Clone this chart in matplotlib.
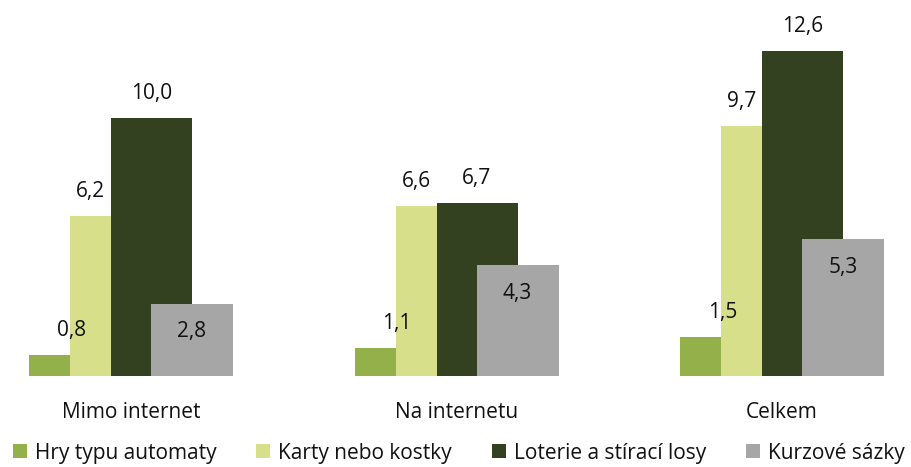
import matplotlib
matplotlib.use("Agg")
import matplotlib.pyplot as plt
import numpy as np

# categories and series values
categories = ["Mimo internet", "Na internetu", "Celkem"]
series = ["Hry typu automaty", "Karty nebo kostky", "Loterie a stírací losy", "Kurzové sázky"]
automaty = [0.8, 1.1, 1.5]
karty = [6.2, 6.6, 9.7]
loterie = [10.0, 6.7, 12.6]
kurzove = [2.8, 4.3, 5.3]

colors = ["#93b04a", "#d7df8b", "#334120", "#a6a6a6"]

plt.rcParams['font.family'] = ['Open Sans', 'DejaVu Sans']
fs = 15

fig = plt.figure(figsize=(9.12, 4.67), dpi=100)
# axes spans full width; baseline at 91 px from bottom
ax = fig.add_axes([0, 91 / 467, 1, 376 / 467])

px = 325.5  # pixels per category unit
x = np.arange(len(categories))
ax.set_xlim(-131 / px, (912 - 131) / px)
ax.set_ylim(0, 376 / 25.8)

# bar layout in pixels relative to group centre: (left, right)
spans = [(-102, -61), (-61, -20), (-20, 61), (20, 102)]
values = [automaty, karty, loterie, kurzove]

handles = []
for i, (vals, col, (l, r)) in enumerate(zip(values, colors, spans)):
    w = (r - l) / px
    b = ax.bar(x + l / px, vals, width=w, align='edge', color=col,
               label=series[i], zorder=2 + i)
    handles.append(b)
    for xi, v in zip(x, vals):
        lab = f"{v:.1f}".replace(".", ",")
        if i == 3:
            ax.annotate(lab, (xi + (l + r) / 2 / px, v), xytext=(0, -28),
                        textcoords='offset pixels', ha='center', va='center',
                        fontsize=fs, color='#111111', zorder=10)
        else:
            off = 22 if i == 0 else 0
            ax.annotate(lab, (xi + (l + r) / 2 / px, v), xytext=(off, 14),
                        textcoords='offset pixels', ha='center', va='bottom',
                        fontsize=fs, color='#111111', zorder=10)

for xi, c in zip(x, categories):
    ax.annotate(c, (xi, 0), xytext=(0, -36), textcoords='offset pixels',
                ha='center', va='center', fontsize=fs, color='#111111',
                annotation_clip=False)

ax.axis('off')

fig.legend(handles=handles, labels=series, loc='center', ncol=4,
           bbox_to_anchor=(0.503, 14 / 467), frameon=False, fontsize=fs,
           handlelength=0.67, handleheight=0.67, handletextpad=0.4,
           columnspacing=1.9, borderaxespad=0, borderpad=0,
           labelcolor='#111111')

fig.savefig("out.png", dpi=100)
